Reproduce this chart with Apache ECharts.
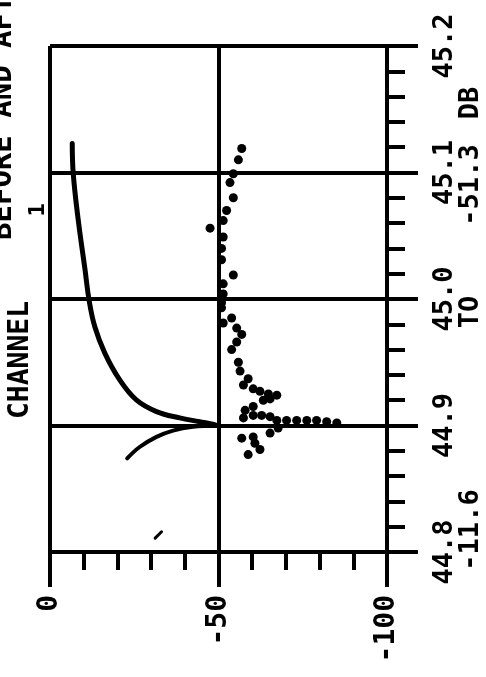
<!DOCTYPE html>
<html>
<head>
<meta charset="utf-8">
<script src="https://cdn.jsdelivr.net/npm/echarts@6/dist/echarts.min.js"></script>
<style>
  html, body { margin: 0; padding: 0; background: #fff; }
  #chart { width: 486px; height: 677px; }
</style>
</head>
<body>
<div id="chart"></div>
<script>
// page is the plot turned on its side: dB runs left to right, MHz bottom to top
var dbTicks = [0, -50, -100];
var freqTicks = ['44.8', '44.9', '45.0', '45.1', '45.2'];

// main response curve (dB, freq)
var upperDb   = [-6.6, -6.9, -8.4, -10.4, -11.6, -13.3, -16.3, -20.7, -25.7, -31.6, -38.5, -44.4, -48.3, -49.5];
var upperFreq = [45.123, 45.099, 45.062, 45.023, 44.999, 44.978, 44.957, 44.936, 44.920, 44.911, 44.906, 44.903, 44.901, 44.900];

// short branch below 44.9
var lowerDb   = [-49.5, -42.4, -36.5, -31.6, -26.6, -22.9];
var lowerFreq = [44.900, 44.899, 44.896, 44.891, 44.883, 44.874];

// dotted trace
var dotDb = [-56.9, -55.9, -54.4, -53.4, -54.4, -52.4, -51.4, -47.5, -51.4, -50.9, -50.9, -54.4, -51.4, -51.4,
  -50.9, -50.9, -53.9, -51.4, -55.4, -56.9, -55.4, -53.9, -55.9, -56.4, -58.8, -57.4, -60.3, -62.3, -64.8,
  -67.3, -65.3, -63.3, -60.3, -57.9, -57.4, -60.3, -62.8, -65.3, -67.3, -70.2, -73.2, -76.2, -79.1, -82.1,
  -85.1, -67.7, -65.3, -56.9, -60.3, -60.8, -62.3, -58.8];
var dotFreq = [45.119, 45.110, 45.099, 45.092, 45.080, 45.070, 45.062, 45.056, 45.049, 45.040, 45.031, 45.019, 45.012, 45.004,
  44.997, 44.993, 44.985, 44.981, 44.977, 44.972, 44.966, 44.960, 44.950, 44.943, 44.937, 44.932, 44.929, 44.927, 44.925,
  44.924, 44.921, 44.920, 44.915, 44.912, 44.906, 44.908, 44.908, 44.907, 44.904, 44.904, 44.904, 44.904, 44.904, 44.903,
  44.902, 44.898, 44.894, 44.890, 44.891, 44.886, 44.881, 44.877];

// stray pen mark near the bottom
var markDb = [-31.2, -33.1];
var markFreq = [44.811, 44.816];

function pairs(xs, ys) {
  var out = [];
  for (var i = 0; i < xs.length; i++) out.push([xs[i], ys[i]]);
  return out;
}

var font = 'DejaVu Sans Mono';
var ink = '#000';

var myChart = echarts.init(document.getElementById('chart'));

option = {
  backgroundColor: '#fff',
  animation: false,
  grid: {
    left: 50,
    right: 99,
    top: 46,
    bottom: 125,
    containLabel: false,
    outerBoundsMode: 'none'
  },
  xAxis: {
    type: 'value',
    min: -100,
    max: 0,
    interval: 50,
    inverse: true,
    position: 'bottom',
    axisLine: { onZero: false, lineStyle: { color: ink, width: 4 } },
    axisTick: { length: 35, lineStyle: { color: ink, width: 4 } },
    minorTick: { show: true, splitNumber: 5, length: 18, lineStyle: { color: ink, width: 4 } },
    splitLine: { show: true, lineStyle: { color: ink, width: 4 } },
    axisLabel: {
      rotate: 90,
      margin: 43,
      color: ink,
      fontFamily: font,
      fontWeight: 'bold',
      fontSize: 28,
      formatter: function (v) { return dbTicks.indexOf(v) >= 0 ? String(v) : ''; }
    }
  },
  yAxis: {
    type: 'value',
    min: 44.8,
    max: 45.2,
    interval: 0.1,
    position: 'right',
    axisLine: { onZero: false, lineStyle: { color: ink, width: 4 } },
    axisTick: { length: 31, lineStyle: { color: ink, width: 4 } },
    minorTick: { show: true, splitNumber: 5, length: 18, lineStyle: { color: ink, width: 4 } },
    splitLine: { show: true, lineStyle: { color: ink, width: 4 } },
    axisLabel: {
      rotate: 90,
      margin: 44,
      color: ink,
      fontFamily: font,
      fontWeight: 'bold',
      fontSize: 27,
      formatter: function (v) {
        var s = v.toFixed(1);
        return freqTicks.indexOf(s) >= 0 ? s : '';
      }
    }
  },
  graphic: [
    { type: 'text', x: 3, y: 240, rotation: Math.PI / 2,
      style: { text: 'BEFORE AND AFTER', fill: ink, font: 'bold 29px ' + font, align: 'left', verticalAlign: 'middle' } },
    { type: 'text', x: 21, y: 360, rotation: Math.PI / 2,
      style: { text: 'CHANNEL', fill: ink, font: 'bold 28px ' + font, align: 'center', verticalAlign: 'middle' } },
    { type: 'text', x: 38, y: 210, rotation: Math.PI / 2,
      style: { text: '1', fill: ink, font: 'bold 22px ' + font, align: 'center', verticalAlign: 'middle' } },
    { type: 'text', x: 471, y: 530, rotation: Math.PI / 2,
      style: { text: '-11.6', fill: ink, font: 'bold 27px ' + font, align: 'center', verticalAlign: 'middle' } },
    { type: 'text', x: 471, y: 312, rotation: Math.PI / 2,
      style: { text: 'TO', fill: ink, font: 'bold 27px ' + font, align: 'center', verticalAlign: 'middle' } },
    { type: 'text', x: 471, y: 185, rotation: Math.PI / 2,
      style: { text: '-51.3', fill: ink, font: 'bold 27px ' + font, align: 'center', verticalAlign: 'middle' } },
    { type: 'text', x: 471, y: 103, rotation: Math.PI / 2,
      style: { text: 'DB', fill: ink, font: 'bold 27px ' + font, align: 'center', verticalAlign: 'middle' } }
  ],
  series: [{
    name: 'upper',
    type: 'line',
    smooth: 0.4,
    showSymbol: false,
    lineStyle: { color: ink, width: 5, cap: 'round' },
    data: pairs(upperDb, upperFreq)
  }, {
    name: 'lower',
    type: 'line',
    smooth: 0.4,
    showSymbol: false,
    lineStyle: { color: ink, width: 4, cap: 'round' },
    data: pairs(lowerDb, lowerFreq)
  }, {
    name: 'dots',
    type: 'scatter',
    symbol: 'circle',
    symbolSize: 9,
    itemStyle: { color: ink, opacity: 1 },
    data: pairs(dotDb, dotFreq)
  }, {
    name: 'mark',
    type: 'line',
    showSymbol: false,
    lineStyle: { color: ink, width: 3, cap: 'round' },
    data: pairs(markDb, markFreq)
  }]
};

myChart.setOption(option);
</script>
</body>
</html>
